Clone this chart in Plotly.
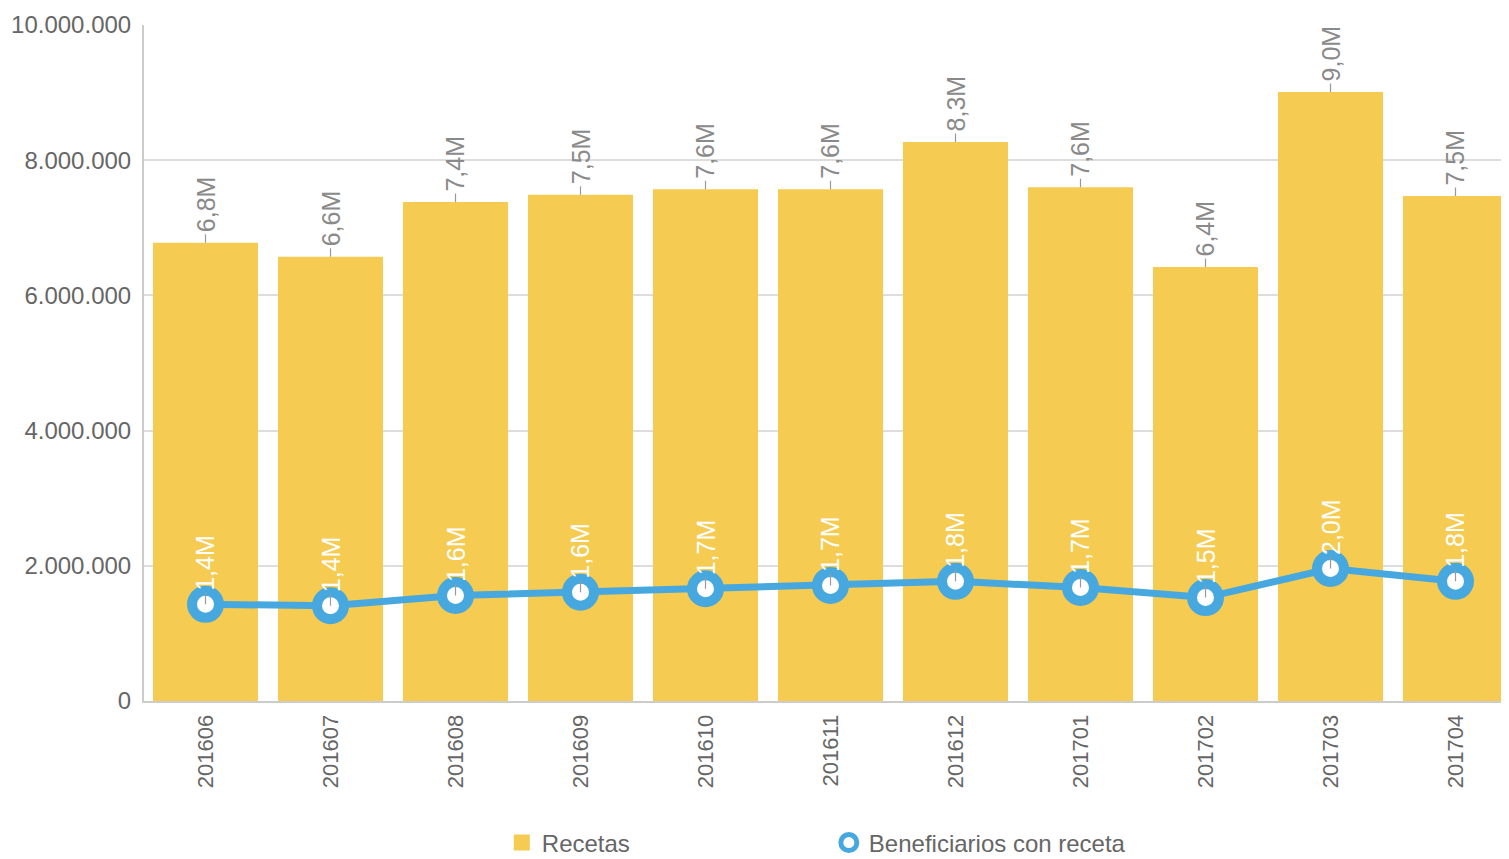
import plotly.graph_objects as go

months = ["201606", "201607", "201608", "201609", "201610", "201611",
          "201612", "201701", "201702", "201703", "201704"]
recetas = [6.78e6, 6.57e6, 7.38e6, 7.49e6, 7.57e6, 7.57e6,
           8.27e6, 7.60e6, 6.42e6, 9.01e6, 7.47e6]
beneficiarios = [1.43e6, 1.41e6, 1.56e6, 1.61e6, 1.66e6, 1.71e6,
                 1.77e6, 1.68e6, 1.53e6, 1.96e6, 1.77e6]
y_ticks = [0, 2e6, 4e6, 6e6, 8e6, 10e6]


def fmt(v):
    return ("%.1fM" % (v / 1e6)).replace(".", ",")


FONT = "Liberation Sans, Arial, sans-serif"
BAR_COLOR = "#F6CB52"
LINE_COLOR = "#47A8DF"

fig = go.Figure()
fig.add_trace(go.Bar(
    x=months, y=recetas, name="Recetas", showlegend=False,
    marker=dict(color=BAR_COLOR, line=dict(width=0)),
    hoverinfo="x+y",
))
fig.add_trace(go.Scatter(
    x=months, y=beneficiarios, name="Beneficiarios con receta",
    mode="lines+markers", showlegend=False,
    line=dict(color=LINE_COLOR, width=7),
    marker=dict(size=27, color="white", line=dict(color=LINE_COLOR, width=10)),
))
# legend-only entries (symbols as in the reference legend)
fig.add_trace(go.Scatter(
    x=[None], y=[None], name="Recetas", mode="markers",
    marker=dict(size=16, symbol="square", color=BAR_COLOR, line=dict(width=0)),
))
fig.add_trace(go.Scatter(
    x=[None], y=[None], name="Beneficiarios con receta", mode="markers",
    marker=dict(size=16, color="white", line=dict(color=LINE_COLOR, width=7)),
))

annotations = []
for i, v in enumerate(recetas):
    annotations.append(dict(
        x=i, y=v, xref="x", yref="y", text=fmt(v), textangle=-90,
        showarrow=True, arrowhead=0, arrowwidth=1.2, arrowcolor="#999999",
        ax=0, ay=-38, font=dict(family=FONT, size=25, color="#8a8a8a"),
    ))
for i, v in enumerate(beneficiarios):
    annotations.append(dict(
        x=i, y=v, xref="x", yref="y", text=fmt(v), textangle=-90,
        showarrow=True, arrowhead=0, arrowwidth=1.2, arrowcolor="#999999",
        ax=0, ay=-41, font=dict(family=FONT, size=25, color="white"),
    ))

fig.update_layout(
    width=1501, height=859,
    margin=dict(l=136, r=0, t=17, b=165.5),
    paper_bgcolor="white", plot_bgcolor="white",
    separators=",.",
    bargap=0.16,
    font=dict(family=FONT, color="#666666"),
    annotations=annotations,
    showlegend=True,
    legend=dict(
        orientation="h", xref="container", yref="container",
        x=0.329, xanchor="left", y=0.028, yanchor="middle",
        font=dict(family=FONT, size=24, color="#666666"),
        entrywidth=282, entrywidthmode="pixels",
        itemsizing="trace",
    ),
    xaxis=dict(
        type="category", range=[-0.492, 10.428], automargin=False,
        tickangle=-90, tickfont=dict(family=FONT, size=22, color="#666666"),
        ticklabelstandoff=3,
        showline=True, linecolor="#cccccc", linewidth=2,
        showgrid=False, ticks="",
    ),
    yaxis=dict(
        range=[0, 10e6], tickvals=y_ticks, tickformat=",d", automargin=False,
        tickfont=dict(family=FONT, size=24, color="#666666"),
        ticklabelstandoff=6,
        showline=True, linecolor="#cccccc", linewidth=2,
        gridcolor="#dddddd", gridwidth=1.5, zeroline=False, ticks="",
    ),
)

fig.write_html("out.html")
